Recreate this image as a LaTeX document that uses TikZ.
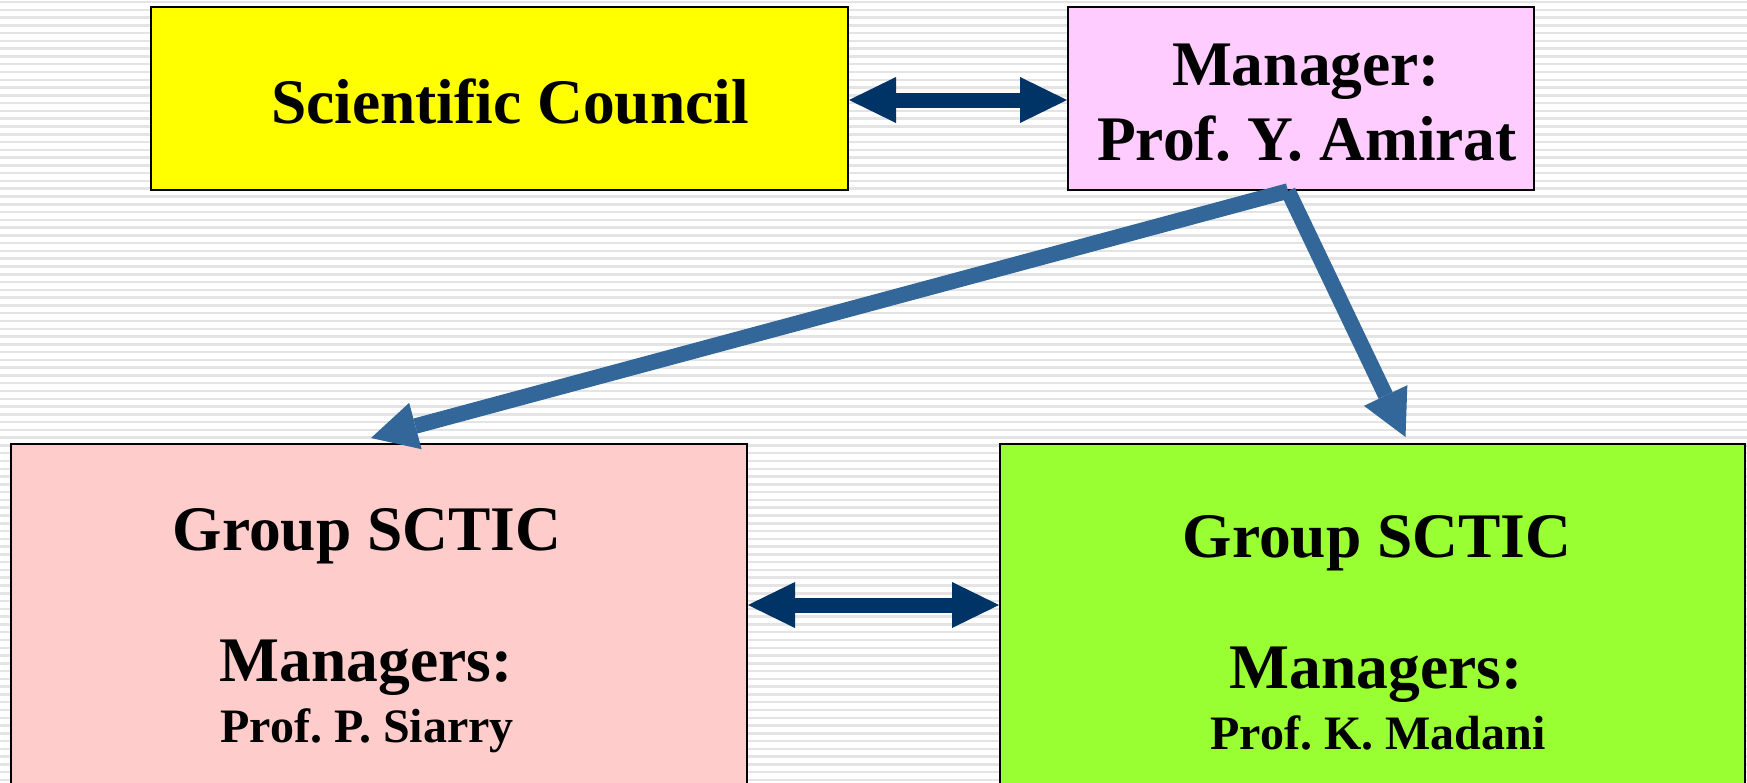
\documentclass[tikz,border=0pt]{standalone}
\usepackage{fontspec}
\setmainfont{Liberation Serif}
\usetikzlibrary{arrows.meta,calc}
\frenchspacing

\definecolor{councilyellow}{HTML}{FFFF00}
\definecolor{managerpink}{HTML}{FFCCFF}
\definecolor{grouprose}{HTML}{FFCCCC}
\definecolor{groupgreen}{HTML}{99FF33}
\definecolor{linknavy}{HTML}{003366}
\definecolor{linkblue}{HTML}{336699}
\definecolor{stripegray}{HTML}{E4E4E4}

\tikzset{
  panel/.style={draw=black, line width=2pt, rectangle, anchor=north west, inner sep=0pt},
  bigtext/.style={anchor=base, inner sep=0pt, font=\fontsize{63.5}{73}\selectfont\bfseries},
  smalltext/.style={anchor=base, inner sep=0pt, font=\fontsize{48}{56}\selectfont\bfseries},
  twoway/.style={linknavy, line width=15pt,
    {Triangle[length=47pt,width=46pt,line width=0pt]}-{Triangle[length=47pt,width=46pt,line width=0pt]}},
  oneway/.style={linkblue, line width=15.5pt,
    -{Triangle[length=46pt,width=48pt,line width=0pt]}},
  stripe/.style={stripegray, line width=2.5pt}
}

\begin{document}
\begin{tikzpicture}[x=1pt,y=1pt]
  \useasboundingbox (0,0) rectangle (1747,-782);
  \fill[white] (0,0) rectangle (1747,-782);

  % ruled background
  \foreach \i in {0,...,101} {
    \draw[stripe] (0,{-2-7.78*\i}) -- (1747,{-2-7.78*\i});
  }

  % boxes
  \node[panel, fill=councilyellow, minimum width=697pt, minimum height=183pt] (sc) at (150,-6) {};
  \node[panel, fill=managerpink, minimum width=466pt, minimum height=183pt] (mgr) at (1067,-6) {};
  \node[panel, fill=grouprose, minimum width=736pt, minimum height=370pt] (lg) at (10,-443) {};
  \node[panel, fill=groupgreen, minimum width=745pt, minimum height=370pt] (rg) at (999,-443) {};

  % box texts
  \node[bigtext] (sctext) at (510,-123) {Scientific Council};
  \node[bigtext] (mgrt1) at (1306,-85) {Manager:};
  \node[bigtext] (mgrt2) at (1307,-160) {Prof. Y. Amirat};

  \node[bigtext] (lgt1) at (367,-550) {Group SCTIC};
  \node[bigtext] (lgt2) at (366,-681) {Managers:};
  \node[smalltext] (lgt3) at (367,-742) {Prof. P. Siarry};

  \node[bigtext] (rgt1) at (1377,-557) {Group SCTIC};
  \node[bigtext] (rgt2) at (1376,-688) {Managers:};
  \node[smalltext] (rgt3) at (1378,-749) {Prof. K. Madani};

  % connectors
  \coordinate (toprow) at (0,-100);
  \coordinate (midrow) at (0,-605);
  \draw[twoway] (sc.east |- toprow) -- (mgr.west |- toprow);
  \draw[twoway] (lg.east |- midrow) -- (rg.west |- midrow);

  \coordinate (fork) at ($(mgr.south)+(-13,0)$);
  \coordinate (lgin) at ($(lg.north)+(-8,5)$);
  \coordinate (rgin) at ($(rg.north)+(33,6)$);
  \draw[oneway] (fork) -- (lgin);
  \draw[oneway] (fork) -- (rgin);
\end{tikzpicture}
\end{document}
